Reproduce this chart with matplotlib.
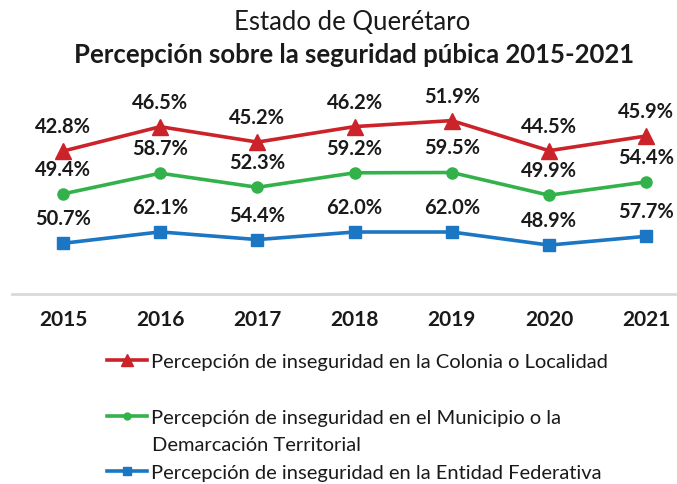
import matplotlib
matplotlib.use("Agg")
import matplotlib.pyplot as plt
import numpy as np
from matplotlib.lines import Line2D

plt.rcParams['font.family'] = ['Lato', 'DejaVu Sans']

years = ["2015", "2016", "2017", "2018", "2019", "2020", "2021"]
colonia = [42.8, 46.5, 45.2, 46.2, 51.9, 44.5, 45.9]
municipio = [49.4, 58.7, 52.3, 59.2, 59.5, 49.9, 54.4]
entidad = [50.7, 62.1, 54.4, 62.0, 62.0, 48.9, 57.7]

label_colonia = "Percepción de inseguridad en la Colonia o Localidad"
label_municipio_1 = "Percepción de inseguridad en el Municipio o la"
label_municipio_2 = "Demarcación Territorial"
label_entidad = "Percepción de inseguridad en la Entidad Federativa"

W, H = 677, 485
fig = plt.figure(figsize=(W/100, H/100), dpi=100)
fig.patch.set_facecolor('white')

# axes spanning pixel x 12..677, y 90..295
ax = fig.add_axes([12/W, 1-295/H, (677-12)/W, (295-90)/H])
x = np.arange(len(years))
step = 97.2
ax.set_xlim((12-63)/step, (677-63)/step)
ax.set_ylim(0, 205)

red = '#cc2229'
green = '#33b24c'
blue = '#1b76c4'

s1 = np.array(entidad)
s2 = s1 + np.array(municipio)
s3 = s2 + np.array(colonia)

lw = 2.6
ax.plot(x, s1, color=blue, lw=lw, marker='s', ms=8, zorder=3)
ax.plot(x, s2, color=green, lw=lw, marker='o', ms=8, zorder=3)
ax.plot(x, s3, color=red, lw=lw, marker='^', ms=12, zorder=3)

for series, vals in ((s1, entidad), (s2, municipio), (s3, colonia)):
    for xi, yi, v in zip(x, series, vals):
        ax.annotate(f"{v:.1f}%", (xi, yi), xytext=(0, 18), textcoords='offset points',
                    ha='center', va='center', fontsize=14.5, fontweight='bold', color='#1a1a1a',
                    zorder=4)

for sp in ['top', 'right', 'left']:
    ax.spines[sp].set_visible(False)
ax.spines['bottom'].set_color('#d9d9d9')
ax.spines['bottom'].set_linewidth(2)
ax.set_yticks([])
ax.set_xticks(x)
ax.set_xticklabels(years, fontsize=15, fontweight='bold', color='#1a1a1a')
ax.tick_params(axis='x', length=0, pad=11)

fig.text(352/W, 1-22/H, "Estado de Querétaro", ha='center', va='center', fontsize=18.5, color='#1a1a1a')
fig.text(354/W, 1-55/H, "Percepción sobre la seguridad púbica 2015-2021", ha='center', va='center',
         fontsize=18.5, fontweight='bold', color='#1a1a1a')

fs = 14.5
def add_leg(handle, label, ypix):
    lg = fig.legend([handle], [label], loc='center left', bbox_to_anchor=(107/W, 1-ypix/H),
                    frameon=False, fontsize=fs, borderpad=0, borderaxespad=0,
                    handlelength=2.0, handletextpad=0.2)
    for t in lg.get_texts():
        t.set_color('#1a1a1a')
    return lg

h1 = Line2D([], [], color=red, lw=lw, marker='^', ms=8)
h2 = Line2D([], [], color=green, lw=lw, marker='o', ms=5)
h3 = Line2D([], [], color=blue, lw=lw, marker='s', ms=6)
add_leg(h1, label_colonia, 362)
add_leg(h2, label_municipio_1, 418)
add_leg(h3, label_entidad, 473)
fig.text(152/W, 1-446/H, label_municipio_2, ha='left', va='center', fontsize=fs, color='#1a1a1a')

fig.savefig('out.png', dpi=100, facecolor='white')
